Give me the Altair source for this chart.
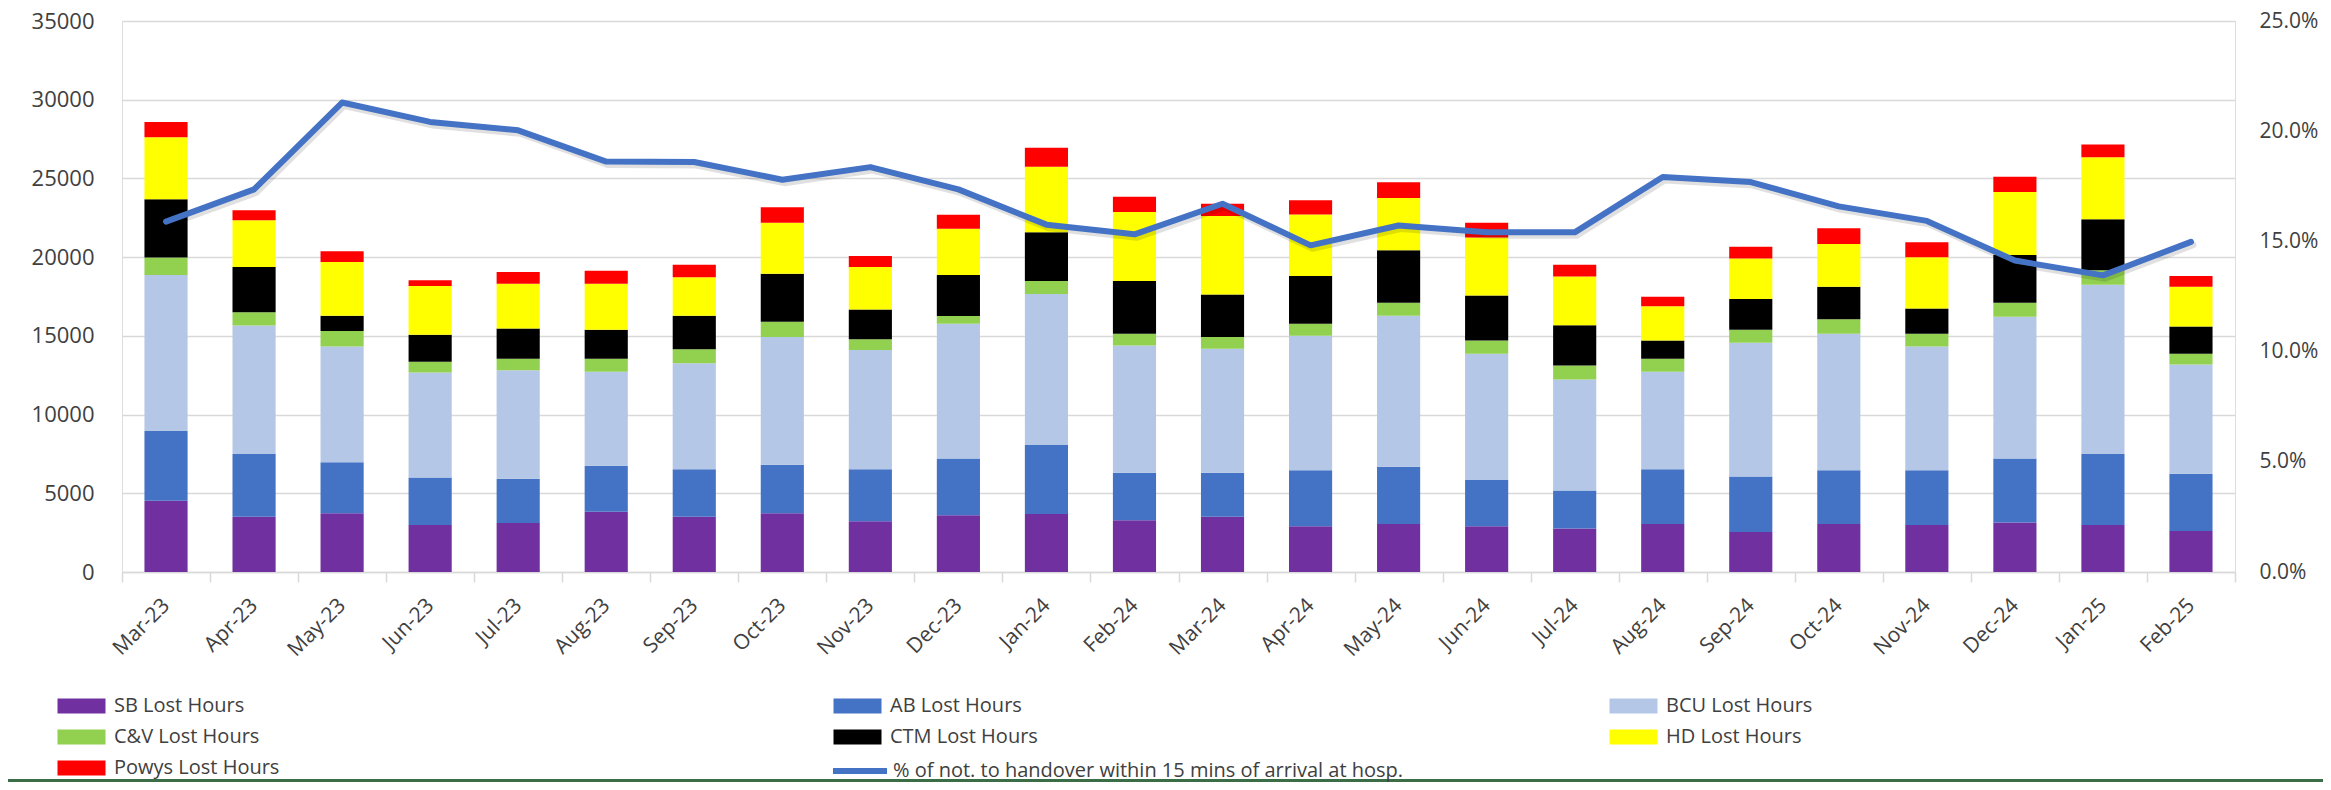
import altair as alt
import pandas as pd

months = ["Mar-23", "Apr-23", "May-23", "Jun-23", "Jul-23", "Aug-23", "Sep-23", "Oct-23",
          "Nov-23", "Dec-23", "Jan-24", "Feb-24", "Mar-24", "Apr-24", "May-24", "Jun-24",
          "Jul-24", "Aug-24", "Sep-24", "Oct-24", "Nov-24", "Dec-24", "Jan-25", "Feb-25"]

sb = [4520, 3510, 3730, 2980, 3120, 3820, 3510, 3730, 3220, 3600, 3680, 3290,
      3510, 2900, 3050, 2900, 2760, 3050, 2540, 3050, 2980, 3140, 2980, 2610]
ab = [4430, 3990, 3240, 3020, 2810, 2930, 3020, 3090, 3310, 3610, 4380, 3020,
      2800, 3560, 3630, 2950, 2420, 3480, 3530, 3410, 3480, 4070, 4520, 3630]
bcu = [9920, 8150, 7350, 6680, 6890, 5970, 6730, 8110, 7570, 8560, 9600, 8080,
       7870, 8540, 9600, 8010, 7040, 6190, 8490, 8680, 7860, 9000, 10740, 6940]
cv = [1110, 850, 990, 670, 730, 830, 890, 960, 680, 490, 820, 750,
      750, 770, 820, 850, 890, 830, 820, 920, 820, 890, 920, 680]
ctm = [3700, 2880, 970, 1720, 1910, 1830, 2130, 3050, 1890, 2610, 3100, 3340,
       2700, 3030, 3340, 2850, 2560, 1160, 1960, 2060, 1600, 3030, 3240, 1740]
hd = [3940, 2970, 3410, 3100, 2850, 2930, 2440, 3240, 2710, 2930, 4160, 4380,
      4990, 3910, 3310, 3680, 3100, 2170, 2570, 2710, 3260, 4010, 3940, 2520]
powys = [970, 630, 680, 360, 750, 820, 800, 990, 700, 890, 1210, 970,
         770, 900, 1000, 940, 750, 610, 750, 1010, 950, 970, 820, 680]
pct = [0.159, 0.1736, 0.213, 0.2042, 0.2004, 0.1862, 0.186, 0.178, 0.1837, 0.1736, 0.1576, 0.1532,
       0.1671, 0.1482, 0.1572, 0.1541, 0.1541, 0.1792, 0.1769, 0.1659, 0.1593, 0.1413, 0.1346, 0.1498]

series_names = ["SB Lost Hours", "AB Lost Hours", "BCU Lost Hours", "C&V Lost Hours",
                "CTM Lost Hours", "HD Lost Hours", "Powys Lost Hours"]
series_colors = ["#7030A0", "#4472C4", "#B4C7E7", "#92D050", "#000000", "#FFFF00", "#FF0000"]
line_name = "% of not. to handover within 15 mins of arrival at hosp."

rows = []
for idx, (name, vals) in enumerate(zip(series_names, [sb, ab, bcu, cv, ctm, hd, powys])):
    for m, v in zip(months, vals):
        rows.append({"month": m, "series": name, "value": v, "idx": idx})
bars_df = pd.DataFrame(rows)
line_df = pd.DataFrame({"month": months, "pct": pct, "series": [line_name] * len(months)})

FONT = "Open Sans"
TXT = "#404040"
GRID = "#d9d9d9"

x_enc = alt.X(
    "month:N", sort=months, title=None,
    scale=alt.Scale(paddingInner=0, paddingOuter=0),
    axis=alt.Axis(labelAngle=-45, labelAlign="right", labelBaseline="middle",
                  labelFontSize=21, labelFont=FONT, labelColor=TXT, labelPadding=20,
                  tickBand="extent", tickSize=10, tickColor=GRID, tickWidth=1.5,
                  domainColor=GRID, domainWidth=1.5, grid=False, labelOverlap=False),
)

bars = alt.Chart(bars_df).mark_bar(width={"band": 0.49}).encode(
    x=x_enc,
    y=alt.Y("sum(value):Q", stack="zero", title=None,
            scale=alt.Scale(domain=[0, 35000], nice=False),
            axis=alt.Axis(values=list(range(0, 35001, 5000)), format="d", grid=True,
                          gridColor=GRID, gridWidth=1.5, domain=False, ticks=False,
                          labelPadding=28, labelFontSize=22, labelFont=FONT,
                          labelColor=TXT)),
    fill=alt.Fill("series:N", scale=alt.Scale(domain=series_names, range=series_colors),
                  legend=alt.Legend(orient="none", legendX=-67, legendY=675, title=None,
                                    padding=0, columns=3, columnPadding=551, rowPadding=11,
                                    gridAlign="all", direction="horizontal",
                                    symbolType="M-1,-1H5.4V1H-1Z", symbolSize=225,
                                    symbolStrokeWidth=0, symbolOpacity=1,
                                    labelFontSize=20, labelFont=FONT, labelColor=TXT,
                                    labelOffset=39, labelLimit=500)),
    order=alt.Order("idx:Q", sort="ascending"),
)

y_pct = alt.Y("pct:Q", title=None, scale=alt.Scale(domain=[0, 0.25], nice=False),
              axis=alt.Axis(orient="right", values=[0, 0.05, 0.10, 0.15, 0.20, 0.25],
                            format=".1%", grid=False, domain=False, ticks=False,
                            labelPadding=24, labelFontSize=21, labelFont=FONT,
                            labelColor=TXT))

shadow = alt.Chart(line_df).mark_line(color="#000000", opacity=0.12, strokeWidth=7,
                                      xOffset=2, yOffset=3, strokeJoin="round",
                                      strokeCap="round").encode(
    x=alt.X("month:N", sort=months), y=y_pct)

line = alt.Chart(line_df).mark_line(strokeWidth=6, strokeJoin="round", strokeCap="round").encode(
    x=alt.X("month:N", sort=months),
    y=y_pct,
    stroke=alt.Stroke("series:N", scale=alt.Scale(domain=[line_name], range=["#4472C4"]),
                      legend=alt.Legend(orient="none", legendX=708, legendY=720, title=None,
                                        padding=0, symbolType="stroke", symbolSize=2916,
                                        symbolStrokeWidth=6, labelFontSize=20,
                                        labelFont=FONT, labelColor=TXT, labelOffset=3,
                                        labelLimit=900)),
)

green = alt.Chart(line_df).mark_rule(color="#3b6e46", strokeWidth=3).encode(
    x=alt.value(-114), x2=alt.value(2201), y=alt.value(760)
)

chart = alt.layer(bars, alt.layer(shadow, line), green).resolve_scale(
    y="independent", fill="independent", stroke="independent"
).properties(
    width=2113, height=551,
    padding={"left": 114, "top": 13, "right": 88, "bottom": 210},
    autosize=alt.AutoSizeParams(type="none"),
).configure_view(stroke=None).configure(background="white")

chart.save("out.html", embed_options={"renderer": "svg", "actions": False})
